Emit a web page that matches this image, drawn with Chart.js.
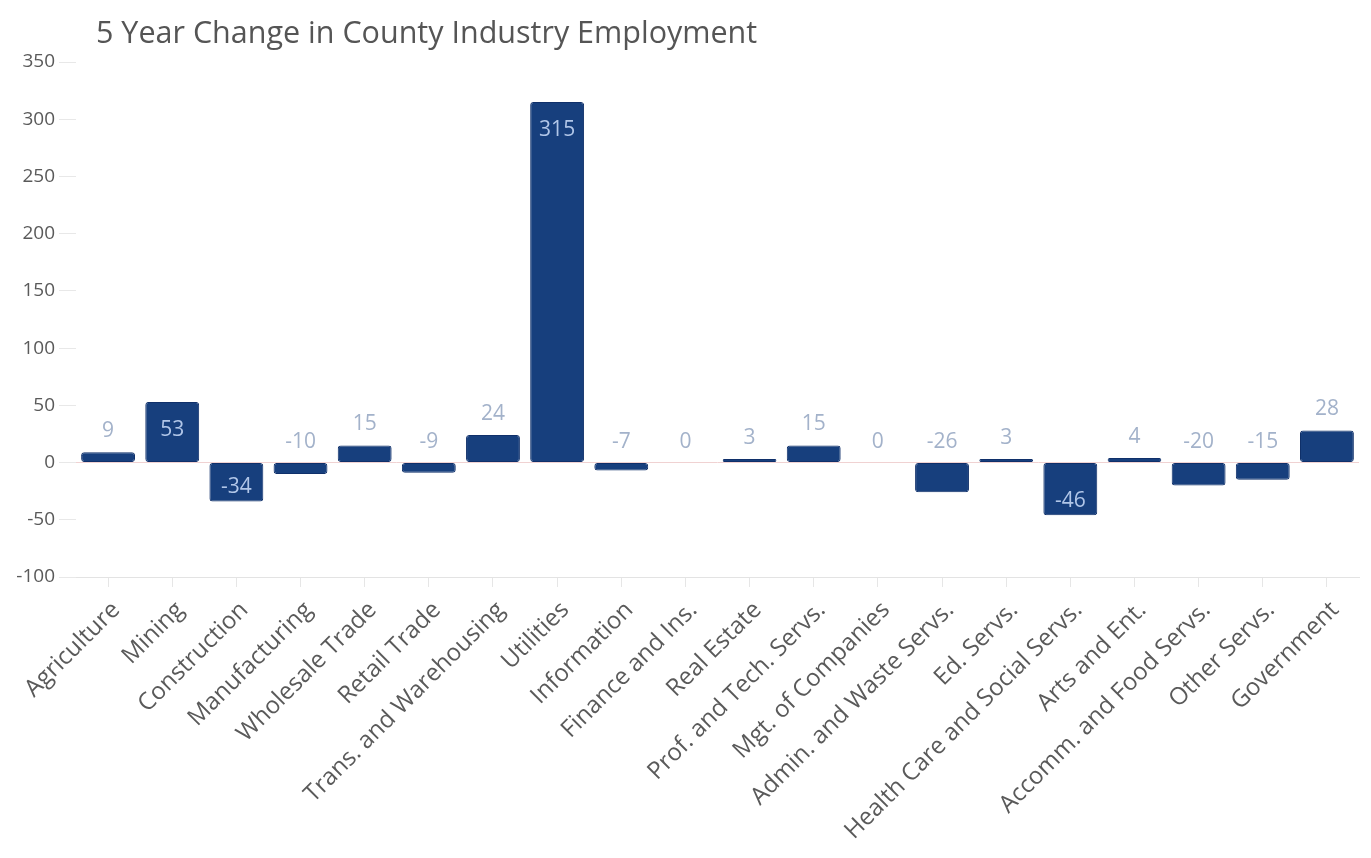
<!DOCTYPE html>
<html>
<head>
<meta charset="utf-8">
<script src="https://cdn.jsdelivr.net/npm/chart.js@4.4.1/dist/chart.umd.min.js"></script>
<style>
  html, body { margin: 0; padding: 0; background: #fff; }
  #wrap { position: relative; width: 1371px; height: 858px; }
  #title {
    position: absolute; left: 96px; top: 10px;
    font: 30.5px "Open Sans", sans-serif; color: #555;
    white-space: nowrap;
  }
</style>
</head>
<body>
<div id="wrap">
  <div id="title">5 Year Change in County Industry Employment</div>
  <canvas id="chart"></canvas>
</div>
<script>
// industries along the x axis
var industries = [
  'Agriculture', 'Mining', 'Construction', 'Manufacturing', 'Wholesale Trade',
  'Retail Trade', 'Trans. and Warehousing', 'Utilities', 'Information',
  'Finance and Ins.', 'Real Estate', 'Prof. and Tech. Servs.', 'Mgt. of Companies',
  'Admin. and Waste Servs.', 'Ed. Servs.', 'Health Care and Social Servs.',
  'Arts and Ent.', 'Accomm. and Food Servs.', 'Other Servs.', 'Government'
];

// change in jobs over 5 years
var changes = [9, 53, -34, -10, 15, -9, 24, 315, -7, 0, 3, 15, 0, -26, 3, -46, 4, -20, -15, 28];

var yMin = -100;
var yMax = 350;
var yStep = 50;

var barColor = '#173f7d';
var barEdge = '#10306a';

// number on each bar: inside when the bar is tall enough, above it otherwise
var valueLabels = {
  id: 'valueLabels',
  afterDatasetsDraw: function(chart) {
    var ctx = chart.ctx;
    var meta = chart.getDatasetMeta(0);
    var zeroY = chart.scales.y.getPixelForValue(0);
    ctx.save();
    ctx.font = '21px "Open Sans", sans-serif';
    ctx.textAlign = 'center';
    ctx.textBaseline = 'middle';
    meta.data.forEach(function(bar, i) {
      var v = changes[i];
      var h = Math.abs(bar.y - bar.base);
      var y;
      if (v > 0 && h > 40) {
        y = bar.y + 28;
        ctx.fillStyle = '#b1c6e8';
      } else if (v < 0 && h > 35) {
        y = bar.y - 14;
        ctx.fillStyle = '#b1c6e8';
      } else {
        y = Math.min(bar.y, zeroY) - 21;
        ctx.fillStyle = '#a3b2ca';
      }
      ctx.fillText(String(v), bar.x, y);
    });
    ctx.restore();
  }
};

var ctx = document.getElementById('chart');

var chart = new Chart(ctx, {
  type: 'bar',
  data: {
    labels: industries,
    datasets: [{
      data: changes,
      backgroundColor: barColor,
      borderColor: barEdge,
      borderWidth: 1,
      borderRadius: 3,
      borderSkipped: false,
      barPercentage: 0.84,
      categoryPercentage: 1
    }]
  },
  options: {
    responsive: true,
    maintainAspectRatio: false,
    animation: false,
    layout: {
      padding: { top: 62, right: 12, left: 0, bottom: 0 }
    },
    plugins: {
      legend: { display: false },
      tooltip: { enabled: false }
    },
    scales: {
      x: {
        grid: {
          drawOnChartArea: false,
          offset: false,
          tickLength: 10,
          color: '#e6e6e6'
        },
        border: { color: '#e3e3e3' },
        ticks: {
          minRotation: 45,
          maxRotation: 45,
          padding: 9,
          labelOffset: 8,
          color: '#5a5a5a',
          font: { family: 'Open Sans', size: 24 }
        },
        afterFit: function(scale) { scale.height = 281; }
      },
      y: {
        min: yMin,
        max: yMax,
        grid: {
          tickLength: 17,
          tickColor: '#e8e8e8',
          color: function(c) {
            return c.tick && c.tick.value === 0 ? '#f0d2d2' : 'transparent';
          }
        },
        border: { display: false },
        ticks: {
          stepSize: yStep,
          padding: 4,
          color: '#5a5a5a',
          font: { family: 'Open Sans', size: 19 }
        },
        afterFit: function(scale) { scale.width = 76; }
      }
    }
  },
  plugins: [valueLabels]
});
</script>
</body>
</html>
